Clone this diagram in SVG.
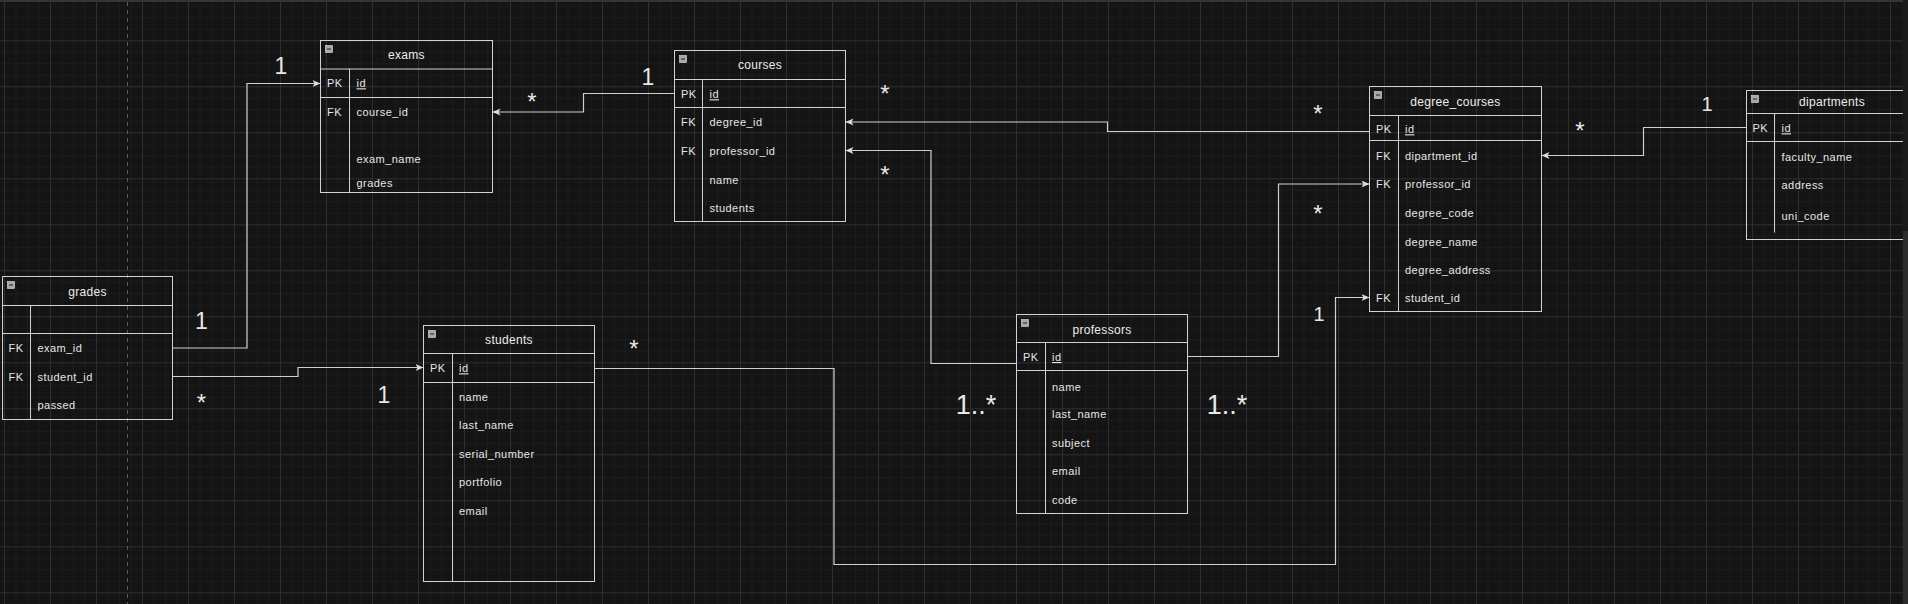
<svg xmlns="http://www.w3.org/2000/svg" width="1908" height="604" viewBox="0 0 1908 604">
<style>
.tb{fill:none;stroke:#d2d2d2;stroke-width:1}
.ln{stroke:#d2d2d2;stroke-width:1;fill:none}
.t{font-family:"Liberation Sans",Arial,sans-serif;font-size:12px;fill:#ececec;text-anchor:middle;letter-spacing:0.3px}
.f{font-family:"Liberation Sans",Arial,sans-serif;font-size:11px;fill:#e6e6e6;letter-spacing:0.45px}
.u{text-decoration:underline}
.c{fill:none;stroke:#cfcfcf;stroke-width:1.2}
.lb{font-family:"Liberation Sans",Arial,sans-serif;fill:#e8e8e8;text-anchor:middle}
.big{font-size:23px}
.mid{font-size:20px}
.star{font-size:24px}
.ic{fill:#a9a9a9;stroke:#e0e0e0;stroke-width:0.6}
</style>
<defs>
<pattern id="grid" x="4" y="40.3" width="46" height="46" patternUnits="userSpaceOnUse">
<rect x="0" y="0" width="46" height="46" fill="#141414"/>
<rect x="11.5" y="0" width="1" height="46" fill="#1c1c1c"/>
<rect x="23" y="0" width="1" height="46" fill="#1c1c1c"/>
<rect x="34.5" y="0" width="1" height="46" fill="#1c1c1c"/>
<rect x="0" y="11.5" width="46" height="1" fill="#1c1c1c"/>
<rect x="0" y="23" width="46" height="1" fill="#1c1c1c"/>
<rect x="0" y="34.5" width="46" height="1" fill="#1c1c1c"/>
<rect x="0" y="0" width="1" height="46" fill="#2e2e2e"/>
<rect x="0" y="0" width="46" height="1" fill="#2e2e2e"/>
</pattern>
<marker id="arr" markerUnits="userSpaceOnUse" markerWidth="9" markerHeight="8" refX="8" refY="4" orient="auto">
<path d="M0,0.5 L8,4 L0,7.5 L2,4 Z" fill="#dcdcdc"/>
</marker>
</defs>
<rect x="0" y="0" width="1908" height="604" fill="url(#grid)"/>
<line x1="127.5" y1="2" x2="127.5" y2="604" stroke="#5a5a5a" stroke-width="1" stroke-dasharray="4,4"/>
<rect x="0" y="0" width="1908" height="2" fill="#353535"/>

<g id="connectors">
<path class="c" d="M172.5 348 H247 V83.5 H320.5" marker-end="url(#arr)"/>
<path class="c" d="M172.5 376.5 H298 V367.5 H423.5" marker-end="url(#arr)"/>
<path class="c" d="M674.5 93.5 H583.5 V112 H492.5" marker-end="url(#arr)"/>
<path class="c" d="M1369.5 131.5 H1107.5 V122 H845.5" marker-end="url(#arr)"/>
<path class="c" d="M1016.5 363.5 H931 V150.5 H845.5" marker-end="url(#arr)"/>
<path class="c" d="M1187.5 356.5 H1278.5 V184 H1369.5" marker-end="url(#arr)"/>
<path class="c" d="M594.5 368.5 H834 V564.5 H1335.5 V297.5 H1369.5" marker-end="url(#arr)"/>
<path class="c" d="M1746.5 127.5 H1643.5 V155.5 H1541.5" marker-end="url(#arr)"/>
<text class="lb big" x="281" y="73.5">1</text>
<text class="lb big" x="648" y="85">1</text>
<text class="lb star" x="532" y="110">*</text>
<text class="lb star" x="885" y="102">*</text>
<text class="lb star" x="885" y="183">*</text>
<text class="lb star" x="1318" y="122">*</text>
<text class="lb star" x="1318" y="222">*</text>
<text class="lb star" x="1580" y="139">*</text>
<text class="lb mid" x="1707" y="110.5">1</text>
<text class="lb mid" x="1319" y="321">1</text>
<text class="lb big" x="201.5" y="329">1</text>
<text class="lb star" x="201.5" y="411">*</text>
<text class="lb big" x="384" y="402.5">1</text>
<text class="lb star" x="634" y="357">*</text>
<text class="lb" font-size="27" x="976" y="413.5">1..*</text>
<text class="lb" font-size="27" x="1227" y="413.5">1..*</text>
</g>

<g id="exams">
<rect class="tb" x="320.5" y="40.5" width="172" height="152"/>
<path class="ln" d="M320.5 69H492.5M320.5 97.5H492.5M349.5 69V192.5"/>
<rect class="ic" x="325.5" y="45.5" width="7" height="7"/><line x1="327" y1="49" x2="331" y2="49" stroke="#222" stroke-width="1"/>
<text class="t" x="406.5" y="59.3">exams</text>
<text class="f" x="327" y="87.3">PK</text><text class="f u" x="356.5" y="87.3">id</text>
<text class="f" x="327" y="116">FK</text><text class="f" x="356.5" y="116">course_id</text>
<text class="f" x="356.5" y="163">exam_name</text>
<text class="f" x="356.5" y="187">grades</text>
</g>

<g id="courses">
<rect class="tb" x="674.5" y="50.5" width="171" height="171"/>
<path class="ln" d="M674.5 79.5H845.5M674.5 107.5H845.5M702.5 79.5V221.5"/>
<rect class="ic" x="679.5" y="55.5" width="7" height="7"/><line x1="681" y1="59" x2="685" y2="59" stroke="#222" stroke-width="1"/>
<text class="t" x="760" y="69.3">courses</text>
<text class="f" x="681" y="98.3">PK</text><text class="f u" x="709.5" y="98.3">id</text>
<text class="f" x="681" y="126.3">FK</text><text class="f" x="709.5" y="126.3">degree_id</text>
<text class="f" x="681" y="155.3">FK</text><text class="f" x="709.5" y="155.3">professor_id</text>
<text class="f" x="709.5" y="183.7">name</text>
<text class="f" x="709.5" y="212.3">students</text>
</g>

<g id="grades">
<rect class="tb" x="2.5" y="276.5" width="170" height="143"/>
<path class="ln" d="M2.5 305.5H172.5M2.5 333.5H172.5M30.5 305.5V419.5"/>
<rect class="ic" x="7.5" y="281.5" width="7" height="7"/><line x1="9" y1="285" x2="13" y2="285" stroke="#222" stroke-width="1"/>
<text class="t" x="87.5" y="295.6">grades</text>
<text class="f" x="8.5" y="352.3">FK</text><text class="f" x="37.5" y="352.3">exam_id</text>
<text class="f" x="8.5" y="381">FK</text><text class="f" x="37.5" y="381">student_id</text>
<text class="f" x="37.5" y="409.3">passed</text>
</g>

<g id="students">
<rect class="tb" x="423.5" y="325.5" width="171" height="256"/>
<path class="ln" d="M423.5 353.5H594.5M423.5 382.5H594.5M452.5 353.5V581.5"/>
<rect class="ic" x="428.5" y="330.5" width="7" height="7"/><line x1="430" y1="334" x2="434" y2="334" stroke="#222" stroke-width="1"/>
<text class="t" x="509" y="344.3">students</text>
<text class="f" x="430" y="372.3">PK</text><text class="f u" x="459" y="372.3">id</text>
<text class="f" x="459" y="401.3">name</text>
<text class="f" x="459" y="429.3">last_name</text>
<text class="f" x="459" y="458.3">serial_number</text>
<text class="f" x="459" y="486.3">portfolio</text>
<text class="f" x="459" y="515.3">email</text>
</g>

<g id="professors">
<rect class="tb" x="1016.5" y="314.5" width="171" height="199"/>
<path class="ln" d="M1016.5 342.5H1187.5M1016.5 370.5H1187.5M1045.5 342.5V513.5"/>
<rect class="ic" x="1021.5" y="319.5" width="7" height="7"/><line x1="1023" y1="323" x2="1027" y2="323" stroke="#222" stroke-width="1"/>
<text class="t" x="1102" y="333.6">professors</text>
<text class="f" x="1023" y="361">PK</text><text class="f u" x="1052" y="361">id</text>
<text class="f" x="1052" y="390.7">name</text>
<text class="f" x="1052" y="418.3">last_name</text>
<text class="f" x="1052" y="447.3">subject</text>
<text class="f" x="1052" y="475.3">email</text>
<text class="f" x="1052" y="504">code</text>
</g>

<g id="degree_courses">
<rect class="tb" x="1369.5" y="86.5" width="172" height="225"/>
<path class="ln" d="M1369.5 115.5H1541.5M1369.5 140.5H1541.5M1398.5 115.5V311.5"/>
<rect class="ic" x="1374.5" y="91.5" width="7" height="7"/><line x1="1376" y1="95" x2="1380" y2="95" stroke="#222" stroke-width="1"/>
<text class="t" x="1455.5" y="105.6">degree_courses</text>
<text class="f" x="1376" y="133.3">PK</text><text class="f u" x="1405" y="133.3">id</text>
<text class="f" x="1376" y="160.3">FK</text><text class="f" x="1405" y="160.3">dipartment_id</text>
<text class="f" x="1376" y="188.3">FK</text><text class="f" x="1405" y="188.3">professor_id</text>
<text class="f" x="1405" y="217.3">degree_code</text>
<text class="f" x="1405" y="245.7">degree_name</text>
<text class="f" x="1405" y="274.3">degree_address</text>
<text class="f" x="1376" y="302.3">FK</text><text class="f" x="1405" y="302.3">student_id</text>
</g>

<g id="dipartments">
<rect class="tb" x="1746.5" y="90.5" width="171" height="149"/>
<path class="ln" d="M1746.5 113.5H1917.5M1746.5 141.5H1917.5M1774.5 113.5V232.5"/>
<rect class="ic" x="1751.5" y="95.5" width="7" height="7"/><line x1="1753" y1="99" x2="1757" y2="99" stroke="#222" stroke-width="1"/>
<text class="t" x="1832" y="106.3">dipartments</text>
<text class="f" x="1752.5" y="132.3">PK</text><text class="f u" x="1781.5" y="132.3">id</text>
<text class="f" x="1781.5" y="161.3">faculty_name</text>
<text class="f" x="1781.5" y="189.3">address</text>
<text class="f" x="1781.5" y="220.3">uni_code</text>
</g>

<rect x="1903" y="0" width="5" height="604" fill="#1a1a1a"/>
<rect x="1903" y="231" width="5" height="373" fill="#2c2c2c"/>
</svg>
